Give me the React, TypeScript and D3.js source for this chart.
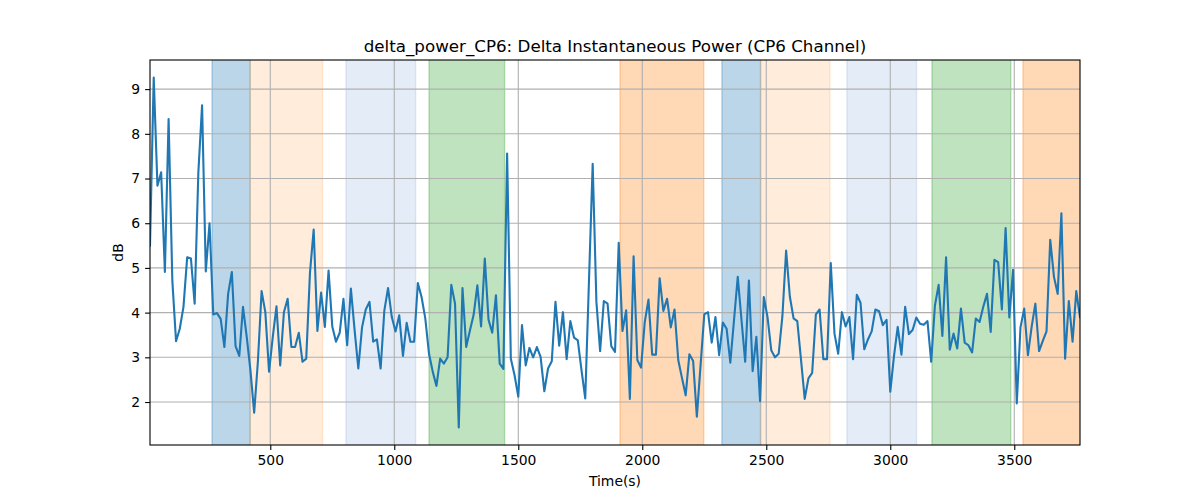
import React, { useRef, useEffect } from "react";
import * as d3 from "d3";

// delta power in dB, one sample every 15 s starting at t = 15 s
const powerDb = [
  5.5, 9.26, 6.84, 7.14, 4.91, 8.33, 4.72, 3.36, 3.64, 4.13,
  5.24, 5.21, 4.2, 7.14, 8.64, 4.92, 6.0, 3.96, 3.99, 3.86,
  3.23, 4.42, 4.91, 3.25, 3.03, 4.13, 3.46, 2.71, 1.76, 2.9,
  4.48, 4.01, 2.68, 3.45, 4.14, 2.82, 4.01, 4.31, 3.23, 3.23,
  3.55, 2.9, 2.97, 4.89, 5.86, 3.59, 4.45, 3.68, 4.94, 3.69,
  3.35, 3.55, 4.31, 3.27, 4.54, 3.61, 2.75, 3.67, 4.07, 4.24,
  3.35, 3.4, 2.75, 4.05, 4.55, 3.9, 3.58, 3.94, 3.03, 3.77,
  3.35, 3.35, 4.66, 4.35, 3.87, 3.08, 2.68, 2.36, 2.97, 2.86,
  3.0, 4.62, 4.2, 1.43, 4.55, 3.23, 3.6, 3.95, 4.61, 3.69,
  5.21, 3.84, 3.55, 4.39, 2.86, 2.74, 7.56, 2.97, 2.6, 2.12,
  3.72, 2.82, 3.21, 3.0, 3.23, 3.01, 2.24, 2.75, 2.91, 4.24,
  3.26, 4.01, 2.96, 3.81, 3.44, 3.38, 2.71, 2.08, 4.7, 7.33,
  4.24, 3.14, 4.26, 4.2, 3.25, 3.12, 5.56, 3.59, 4.05, 2.07,
  5.26, 2.94, 2.77, 3.79, 4.29, 3.06, 3.06, 4.77, 4.04, 4.31,
  3.67, 4.07, 2.94, 2.54, 2.15, 3.07, 2.92, 1.67, 2.82, 3.96,
  4.01, 3.33, 3.9, 3.05, 3.78, 3.64, 2.88, 3.84, 4.8, 3.84,
  2.9, 4.72, 2.69, 3.46, 2.02, 4.35, 3.9, 3.16, 3.0, 3.08,
  3.92, 5.39, 4.36, 3.87, 3.81, 2.95, 2.07, 2.53, 2.65, 3.96,
  4.07, 2.96, 2.96, 5.11, 3.53, 3.08, 4.01, 3.69, 3.9, 2.96,
  4.4, 4.22, 3.18, 3.4, 3.58, 4.07, 4.03, 3.72, 3.84, 2.23,
  3.03, 3.68, 3.06, 4.13, 3.52, 3.61, 3.89, 3.75, 3.73, 3.81,
  2.9, 4.16, 4.62, 3.48, 5.24, 3.17, 3.53, 3.2, 4.09, 3.33,
  3.27, 3.11, 3.87, 3.79, 4.13, 4.42, 3.57, 5.18, 5.13, 4.07,
  5.89, 3.89, 4.96, 1.97, 3.67, 4.09, 3.05, 3.68, 4.2, 3.14,
  3.37, 3.58, 5.63, 4.8, 4.42, 6.22, 2.97, 4.26, 3.35, 4.48,
  3.9,
];
const startTime = 15;
const sampleStep = 15;

// shaded stage intervals (seconds)
const bandStarts = [265, 419, 805, 1140, 1910, 2321, 2477, 2825, 3168, 3535];
const bandEnds = [419, 711, 1086, 1445, 2248, 2477, 2757, 3106, 3486, 3800];
const bandColors = [
  "#1f77b4", "#ff7f0e", "#3070c0", "#2ca02c", "#ff7f0e",
  "#1f77b4", "#ff7f0e", "#3070c0", "#2ca02c", "#ff7f0e",
];
const bandAlphas = [0.3, 0.15, 0.13, 0.3, 0.3, 0.3, 0.15, 0.13, 0.3, 0.3];

const xTicks = [500, 1000, 1500, 2000, 2500, 3000, 3500];
const yTicks = [2, 3, 4, 5, 6, 7, 8, 9];

export default function App() {
  const svgRef = useRef<SVGSVGElement>(null);
  const width = 1200;
  const height = 500;

  useEffect(() => {
    const marginTop = 60;
    const marginRight = 120;
    const marginBottom = 55;
    const marginLeft = 150;
    const font = "'DejaVu Sans', sans-serif";

    const data = powerDb.map((v, i) => ({ t: startTime + i * sampleStep, v }));

    const tMin = d3.min(data, (d) => d.t) as number;
    const tMax = d3.max(data, (d) => d.t) as number;
    const vMin = d3.min(data, (d) => d.v) as number;
    const vMax = d3.max(data, (d) => d.v) as number;
    const pad = (vMax - vMin) * 0.05;

    const x = d3
      .scaleLinear()
      .domain([tMin, tMax])
      .range([marginLeft, width - marginRight]);

    const y = d3
      .scaleLinear()
      .domain([vMin - pad, vMax + pad])
      .range([height - marginBottom, marginTop]);

    const svg = d3.select(svgRef.current);
    svg.selectAll("*").remove();

    svg
      .append("defs")
      .append("clipPath")
      .attr("id", "plot-clip")
      .append("rect")
      .attr("x", marginLeft)
      .attr("y", marginTop)
      .attr("width", width - marginLeft - marginRight)
      .attr("height", height - marginTop - marginBottom);

    const plot = svg.append("g").attr("clip-path", "url(#plot-clip)");

    // bands
    plot
      .selectAll("rect.band")
      .data(bandStarts.map((s, i) => ({ s, e: bandEnds[i], c: bandColors[i], a: bandAlphas[i] })))
      .join("rect")
      .attr("class", "band")
      .attr("x", (d) => x(d.s))
      .attr("y", marginTop - 2)
      .attr("width", (d) => x(d.e) - x(d.s))
      .attr("height", height - marginTop - marginBottom + 4)
      .attr("fill", (d) => d.c)
      .attr("fill-opacity", (d) => d.a)
      .attr("stroke", (d) => d.c)
      .attr("stroke-opacity", (d) => d.a)
      .attr("stroke-width", 1.4);

    // grid
    plot
      .selectAll("line.xgrid")
      .data(xTicks)
      .join("line")
      .attr("x1", (d) => x(d))
      .attr("x2", (d) => x(d))
      .attr("y1", marginTop)
      .attr("y2", height - marginBottom)
      .attr("stroke", "#b0b0b0")
      .attr("stroke-width", 1.1);

    plot
      .selectAll("line.ygrid")
      .data(yTicks)
      .join("line")
      .attr("x1", marginLeft)
      .attr("x2", width - marginRight)
      .attr("y1", (d) => y(d))
      .attr("y2", (d) => y(d))
      .attr("stroke", "#b0b0b0")
      .attr("stroke-width", 1.1);

    const line = d3
      .line<{ t: number; v: number }>()
      .x((d) => x(d.t))
      .y((d) => y(d.v));

    plot
      .append("path")
      .datum(data)
      .attr("fill", "none")
      .attr("stroke", "#1f77b4")
      .attr("stroke-width", 2.1)
      .attr("stroke-linejoin", "round")
      .attr("stroke-linecap", "square")
      .attr("d", line);

    // axes
    const xAxis = svg
      .append("g")
      .attr("transform", `translate(0,${height - marginBottom})`)
      .call(d3.axisBottom(x).tickValues(xTicks).tickSize(4.9).tickPadding(4.9).tickFormat(d3.format("d")))
      .call((g) => g.select(".domain").remove());

    const yAxis = svg
      .append("g")
      .attr("transform", `translate(${marginLeft},0)`)
      .call(d3.axisLeft(y).tickValues(yTicks).tickSize(4.9).tickPadding(4.9).tickFormat(d3.format("d")))
      .call((g) => g.select(".domain").remove());

    [xAxis, yAxis].forEach((g) => {
      g.selectAll(".tick line").attr("stroke", "#000").attr("stroke-width", 1.1);
      g.selectAll(".tick text")
        .attr("fill", "#000")
        .style("font-family", font)
        .style("font-size", "13.9px");
    });

    svg
      .append("rect")
      .attr("x", marginLeft)
      .attr("y", marginTop)
      .attr("width", width - marginLeft - marginRight)
      .attr("height", height - marginTop - marginBottom)
      .attr("fill", "none")
      .attr("stroke", "#000")
      .attr("stroke-width", 1.1);

    svg
      .append("text")
      .attr("x", (marginLeft + width - marginRight) / 2)
      .attr("y", 51.7)
      .attr("text-anchor", "middle")
      .style("font-family", font)
      .style("font-size", "16.7px")
      .text("delta_power_CP6: Delta Instantaneous Power (CP6 Channel)");

    svg
      .append("text")
      .attr("x", (marginLeft + width - marginRight) / 2)
      .attr("y", 486)
      .attr("text-anchor", "middle")
      .style("font-family", font)
      .style("font-size", "13.9px")
      .text("Time(s)");

    svg
      .append("text")
      .attr("transform", `translate(123,${(marginTop + height - marginBottom) / 2}) rotate(-90)`)
      .attr("text-anchor", "middle")
      .style("font-family", font)
      .style("font-size", "13.9px")
      .text("dB");
  }, []);

  return (
    <svg
      ref={svgRef}
      width={width}
      height={height}
      viewBox={`0 0 ${width} ${height}`}
      style={{ position: "absolute", left: 0, top: 0, background: "#fff" }}
    />
  );
}
